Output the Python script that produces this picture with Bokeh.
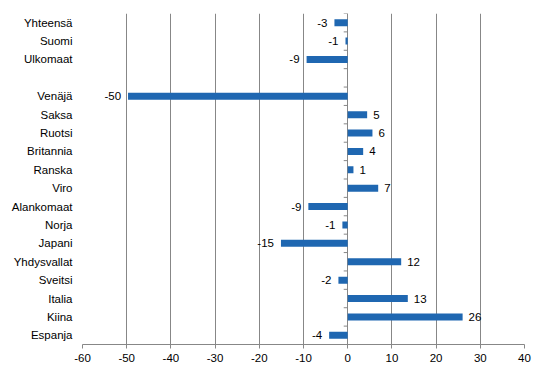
from bokeh.plotting import figure
from bokeh.models import Range1d, FixedTicker, ColumnDataSource
from bokeh.core.properties import value
from bokeh.embed import file_html
from bokeh.resources import INLINE

# ---- data (top to bottom) ----
categories = ["Yhteensä", "Suomi", "Ulkomaat", "", "Venäjä", "Saksa", "Ruotsi",
              "Britannia", "Ranska", "Viro", "Alankomaat", "Norja", "Japani",
              "Yhdysvallat", "Sveitsi", "Italia", "Kiina", "Espanja"]
values = [-3.0, -0.5, -9.3, None, -49.7, 4.4, 5.6, 3.5, 1.3, 6.9, -8.9, -1.2,
          -15.1, 12.1, -2.1, 13.6, 26.0, -4.2]
labels = ["-3", "-1", "-9", "", "-50", "5", "6", "4", "1", "7", "-9", "-1",
          "-15", "12", "-2", "13", "26", "-4"]
x_ticks = [-60, -50, -40, -30, -20, -10, 0, 10, 20, 30, 40]

BAR = "#1f67b1"
GRID = "#878787"
FONT = "Liberation Sans"
FS = "11.5px"

n = len(categories)
ypos = [n - 1 - i for i in range(n)]

rows = [(ypos[i], categories[i], values[i], labels[i]) for i in range(n) if values[i] is not None]
src = ColumnDataSource(dict(y=[r[0] for r in rows], v=[r[2] for r in rows], lab=[r[3] for r in rows]))
pos = ColumnDataSource(dict(y=[r[0] for r in rows if r[2] >= 0], v=[r[2] for r in rows if r[2] >= 0],
                            lab=[r[3] for r in rows if r[2] >= 0]))
neg = ColumnDataSource(dict(y=[r[0] for r in rows if r[2] < 0], v=[r[2] for r in rows if r[2] < 0],
                            lab=[r[3] for r in rows if r[2] < 0]))

p = figure(width=544, height=374, output_backend="svg", toolbar_location=None,
           x_range=Range1d(x_ticks[0], x_ticks[-1]), y_range=Range1d(-0.5, n - 0.5),
           min_border_left=82, min_border_right=20, min_border_top=13, min_border_bottom=30)
p.outline_line_color = None
p.background_fill_color = "white"
p.border_fill_color = "white"

p.hbar(y="y", left=0, right="v", height=0.38, source=src, fill_color=BAR, line_color=None)

p.text(x="v", y="y", text="lab", source=pos, x_offset=6, text_align="left", text_baseline="middle",
       text_font=value(FONT), text_font_size=FS, text_color="black")
p.text(x="v", y="y", text="lab", source=neg, x_offset=-7, text_align="right", text_baseline="middle",
       text_font=value(FONT), text_font_size=FS, text_color="black")

# category boundary ticks on the zero line
bounds = [k - 0.5 for k in range(n + 1)]
p.segment(x0=[0] * len(bounds), y0=bounds, x1=[-0.9] * len(bounds), y1=bounds,
          line_color=GRID, line_width=1)

# x axis
xa = p.xaxis[0]
xa.ticker = FixedTicker(ticks=x_ticks)
xa.major_label_overrides = {t: str(t) for t in x_ticks}
xa.axis_line_color = GRID
xa.major_tick_line_color = GRID
xa.major_tick_out = 4
xa.major_tick_in = 0
xa.minor_tick_line_color = None
xa.major_label_standoff = 5
xa.major_label_text_font = FONT
xa.major_label_text_font_size = FS
xa.major_label_text_color = "black"

# y axis (category names)
ya = p.yaxis[0]
cat_ticks = [ypos[i] for i in range(n) if categories[i]]
ya.ticker = FixedTicker(ticks=cat_ticks)
ya.major_label_overrides = {ypos[i]: categories[i] for i in range(n) if categories[i]}
ya.axis_line_color = None
ya.major_tick_line_color = None
ya.minor_tick_line_color = None
ya.major_tick_out = 0
ya.major_tick_in = 0
ya.major_label_standoff = 10
ya.major_label_text_font = FONT
ya.major_label_text_font_size = FS
ya.major_label_text_color = "black"

p.xgrid.ticker = FixedTicker(ticks=x_ticks)
p.xgrid.grid_line_color = GRID
p.ygrid.grid_line_color = None

open("out.html", "w").write(file_html(p, INLINE))
